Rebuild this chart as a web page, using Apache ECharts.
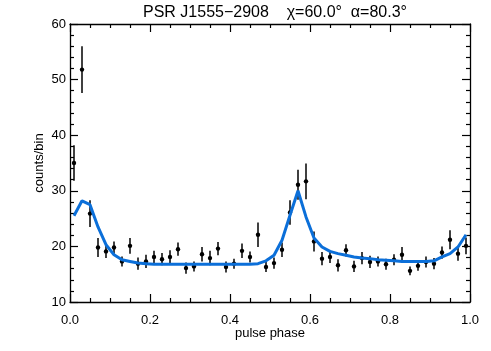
<!DOCTYPE html>
<html>
<head>
<meta charset="utf-8">
<script src="https://cdn.jsdelivr.net/npm/echarts@6/dist/echarts.min.js"></script>
<style>
html,body{margin:0;padding:0;background:#fff}
#main{width:491px;height:351px}
</style>
</head>
<body>
<div id="main"></div>
<script>
// bin centres (pulse phase)
var phase = [0.01,0.03,0.05,0.07,0.09,0.11,0.13,0.15,0.17,0.19,
             0.21,0.23,0.25,0.27,0.29,0.31,0.33,0.35,0.37,0.39,
             0.41,0.43,0.45,0.47,0.49,0.51,0.53,0.55,0.57,0.59,
             0.61,0.63,0.65,0.67,0.69,0.71,0.73,0.75,0.77,0.79,
             0.81,0.83,0.85,0.87,0.89,0.91,0.93,0.95,0.97,0.99];
// measured counts per bin
var counts = [35.0,51.8,25.9,19.8,19.1,19.8,17.3,20.1,16.9,17.3,
              18.1,17.7,18.1,19.5,16.1,16.4,18.6,17.9,19.6,16.3,
              16.9,19.2,18.1,22.1,16.3,17.0,19.4,26.1,31.1,31.7,
              20.9,17.8,18.1,16.6,19.3,16.4,17.9,17.2,17.3,16.8,
              17.6,18.5,15.6,16.5,17.2,16.9,18.9,21.2,18.7,20.1];
// error bar half lengths
var errs = [3.2,4.2,2.4,1.7,1.2,1.1,0.9,1.4,1.1,1.2,
            1.1,1.1,1.2,1.2,1.0,0.9,1.3,1.3,1.2,1.0,
            0.9,1.3,1.0,2.2,0.9,1.0,1.3,2.2,2.7,3.2,
            1.8,1.2,1.1,1.1,1.1,1.0,1.1,1.1,0.9,1.0,
            1.0,1.4,0.8,0.9,1.0,1.0,1.1,1.7,1.3,1.5];
// model light curve
var model = [25.5,28.2,27.5,23.5,20.3,18.5,17.6,17.3,17.0,16.9,
             16.8,16.8,16.8,16.8,16.8,16.8,16.8,16.8,16.8,16.8,
             16.8,16.8,16.8,16.9,17.4,18.4,21.1,25.6,30.0,25.3,
             21.5,19.9,19.1,18.7,18.4,18.1,17.9,17.8,17.6,17.5,
             17.4,17.3,17.3,17.3,17.3,17.4,18.1,18.7,19.9,22.1];

var pts = [], line = [];
for (var i = 0; i < phase.length; i++) {
    pts.push([phase[i], counts[i], errs[i]]);
    line.push([phase[i], model[i]]);
}

var font = 'Liberation Sans, Arial, sans-serif';
function axisBase(pos, isX, showLabel) {
    var a = {
        type: 'value',
        position: pos,
        nameMoveOverlap: false,
        axisLine: {show: true, onZero: false, lineStyle: {color: '#000', width: 1.3}},
        axisTick: {show: true, inside: true, length: 8, lineStyle: {color: '#000', width: 1.2}},
        minorTick: {show: true, splitNumber: isX ? 4 : 5, length: 4, lineStyle: {color: '#000', width: 1.2}},
        splitLine: {show: false},
        axisLabel: {show: showLabel, color: '#000', fontSize: 13, fontFamily: font}
    };
    if (isX) {
        a.min = 0; a.max = 1; a.interval = 0.2;
        a.axisLabel.formatter = function (v) { return v.toFixed(1); };
        a.axisLabel.margin = 12;
    } else {
        a.min = 10; a.max = 60; a.interval = 10;
        a.axisLabel.margin = 4;
    }
    return a;
}

var xb = axisBase('bottom', true, true);
xb.name = 'pulse phase';
xb.nameLocation = 'middle';
xb.nameGap = 25;
xb.nameTextStyle = {color: '#000', fontSize: 13, fontFamily: font};
var xt = axisBase('top', true, false);
var yl = axisBase('left', false, true);
yl.name = 'counts/bin';
yl.nameLocation = 'middle';
yl.nameGap = 24;
yl.nameTextStyle = {color: '#000', fontSize: 13, fontFamily: font};
var yr = axisBase('right', false, false);

var chart = echarts.init(document.getElementById('main'));
chart.setOption({
    animation: false,
    backgroundColor: '#fff',
    title: {
        text: 'PSR J1555\u22122908    \u03c7=60.0\u00b0  \u03b1=80.3\u00b0',
        left: 270, top: 0, textAlign: 'center',
        textStyle: {color: '#000', fontSize: 16, fontWeight: 'normal', fontFamily: font}
    },
    grid: {left: 70, right: 21, top: 24, bottom: 49},
    xAxis: [xb, xt],
    yAxis: [yl, yr],
    series: [
        {
            type: 'custom',
            xAxisIndex: 0, yAxisIndex: 0,
            data: pts,
            renderItem: function (params, api) {
                var x = api.value(0), y = api.value(1), e = api.value(2);
                var p = api.coord([x, y]);
                var hi = api.coord([x, y + e]);
                var lo = api.coord([x, y - e]);
                return {
                    type: 'group',
                    children: [
                        {type: 'line', shape: {x1: p[0], y1: hi[1], x2: p[0], y2: lo[1]},
                         style: {stroke: '#000', lineWidth: 1.5}},
                        {type: 'circle', shape: {cx: p[0], cy: p[1], r: 2.2},
                         style: {fill: '#000'}}
                    ]
                };
            },
            z: 2
        },
        {
            type: 'line',
            xAxisIndex: 0, yAxisIndex: 0,
            data: line,
            symbol: 'none',
            lineStyle: {color: '#0b6fd9', width: 3},
            z: 3
        }
    ]
});
</script>
</body>
</html>
